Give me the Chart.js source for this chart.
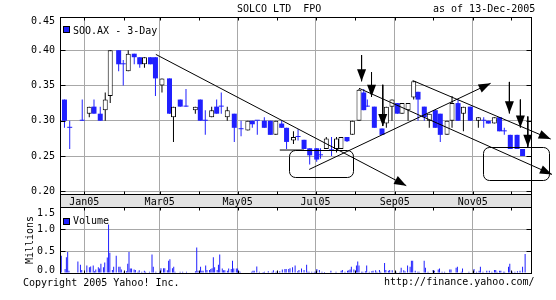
<!DOCTYPE html>
<html><head><meta charset="utf-8">
<script src="https://cdn.jsdelivr.net/npm/chart.js@4.4.0/dist/chart.umd.min.js"></script>
<style>
html,body{margin:0;padding:0;background:#fff;}
#wrap{position:relative;width:556px;height:300px;overflow:hidden;font-family:"DejaVu Sans Mono",monospace;font-size:10px;color:#000;}
.t{position:absolute;white-space:pre;line-height:12px;font-size:10px;}
canvas{position:absolute;left:0;}
#c1{top:0;width:556px;height:208px;}
#c2{top:200px;width:556px;height:100px;}
.sq{position:absolute;width:5px;height:5px;background:#2020ff;border:1px solid #000;}
</style></head><body>
<div id="wrap">
<canvas id="c1" width="556" height="208"></canvas>
<canvas id="c2" width="556" height="100"></canvas>
<div class="t" style="left:237px;top:3px">SOLCO LTD  FPO</div>
<div class="t" style="left:433px;top:3px">as of 13-Dec-2005</div>
<div class="sq" style="left:63px;top:26px"></div>
<div class="t" style="left:73px;top:25px">SOO.AX - 3-Day</div>
<div class="sq" style="left:63px;top:218px"></div>
<div class="t" style="left:73px;top:215px">Volume</div>
<div class="t" style="left:23px;top:277px">Copyright 2005 Yahoo! Inc.</div>
<div class="t" style="left:384px;top:276px">http://finance.yahoo.com/</div>
</div>
<script>
// ---- data (x = days since 1 Jan 2005) ----
const candleDay = [-15.5,-11.4,-1.6,3.9,7.6,12.5,16.4,20.3,26.9,30.5,34.4,39.1,43.4,47.1,51.8,55.7,60.8,66.7,69.8,75.1,79.6,86.9,90.8,94.7,99.7,103.6,107.2,111.9,117.4,122.7,128.0,131.5,135.4,140.9,145.6,149.9,154.5,158.3,163.7,167.3,172.0,176.4,181.9,184.9,189.4,193.5,197.4,200.9,205.6,209.8,215.0,218.7,221.5,227.0,233.0,236.4,240.8,245.0,248.7,253.4,257.8,261.2,266.1,270.0,274.7,278.6,283.9,287.8,292.5,296.7,302.1,308.4,312.6,316.2,320.9,325.0,328.7,333.4,338.7,343.0];
const openP  = [.33,.29,.30,.31,.32,.31,.315,.335,.40,.38, .37,.395,.39,.38,.39,.39,.35,.36,.305,.33, .32,.315,.33,.30,.305,.32,.32,.305,.31,.288, .286,.30,.30,.30,.30,.28,.296,.29,.272,.277, .273,.261,.261,.251,.26,.258,.26,.26,.277,.28, .30,.34,.32,.32,.289,.296,.32,.325,.31,.315, .333,.341,.32,.30,.315,.31,.28,.30,.325,.31, .32,.30,.30,.30,.296,.305,.285,.28,.28,.26];
const highP  = [.33,.30,.33,.32,.33,.32,.34,.40,.40,.386, .40,.395,.39,.39,.39,.39,.36,.36,.32,.33, .345,.32,.33,.315,.32,.33,.34,.32,.31,.30, .30,.30,.30,.305,.30,.30,.30,.29,.285,.288, .273,.261,.261,.261,.277,.277,.277,.277,.277,.30, .345,.345,.33,.32,.289,.32,.33,.325,.325,.325, .356,.341,.32,.31,.315,.31,.30,.335,.33,.32, .32,.305,.305,.30,.305,.305,.29,.28,.28,.26];
const lowP   = [.29,.26,.30,.305,.31,.30,.30,.325,.37,.35, .37,.38,.375,.375,.38,.335,.34,.31,.27,.32, .32,.31,.30,.28,.305,.31,.31,.30,.27,.278, .286,.29,.28,.29,.28,.28,.29,.26,.267,.272, .26,.238,.242,.246,.26,.25,.255,.26,.27,.28, .30,.315,.32,.29,.28,.29,.30,.31,.31,.30, .33,.30,.30,.29,.29,.27,.28,.29,.30,.285, .30,.29,.29,.296,.296,.285,.28,.26,.26,.25];
const closeP = [.30,.29,.30,.32,.31,.30,.33,.40,.38,.38, .395,.39,.38,.39,.38,.36,.36,.31,.32,.32, .32,.32,.30,.30,.315,.31,.32,.315,.29,.288, .30,.295,.30,.29,.28,.30,.29,.27,.277,.277, .26,.251,.245,.251,.275,.258,.275,.277,.271,.30, .344,.315,.32,.29,.28,.32,.33,.31,.325,.325, .356,.33,.305,.31,.29,.28,.30,.325,.30,.32, .30,.305,.30,.296,.305,.285,.285,.26,.26,.25];

const volDay = [-19,-18,-15,-14,-13,-12,-5,-3,-2,2,4,5,7,8,9,11,12,13,15,16,18,19,20,22,23,25,27,28,29,31,33,34,35,36,37,39,40,42,43,45,47,48,51,53,54,56,59,60,62,63,65,66,67,69,70,71,75,77,80,87,88,89,91,92,93,95,96,98,99,100,101,102,104,105,106,108,109,110,112,113,115,116,117,119,120,121,122,131,132,133,135,137,140,141,144,147,148,150,151,153,155,157,158,160,161,163,165,167,168,170,172,174,175,176,178,180,181,182,184,186,188,193,197,201,202,204,206,207,208,209,211,213,214,215,217,218,220,221,223,225,226,228,229,231,232,235,236,238,239,241,244,247,248,250,251,253,255,256,257,259,261,262,266,267,269,273,274,277,278,280,282,286,287,291,292,295,296,301,305,307,309,310,312,315,317,319,321,322,323,325,326,328,329,332,333,335,337,339,341,343,345];
const volM = [.09,.39,.09,.36,.48,.05,.26,.19,.07,.17,.13,.15,.17,.04,.08,.13,.10,.21,.13,.24,.35,1.10,.46,.07,.14,.39,.14,.14,.08,.03,.04,.21,.48,.10,.10,.08,.07,.03,.06,.03,.05,.03,.03,.42,.14,.03,.03,.11,.11,.11,.06,.28,.31,.11,.14,.03,.03,.03,.03,.04,.58,.05,.14,.05,.05,.17,.07,.07,.09,.11,.36,.13,.07,.19,.42,.10,.06,.06,.05,.10,.09,.28,.10,.10,.10,.04,.03,.03,.05,.05,.15,.03,.02,.03,.04,.03,.06,.03,.04,.04,.08,.09,.09,.09,.11,.13,.17,.04,.07,.10,.07,.19,.03,.03,.03,.03,.03,.09,.07,.03,.02,.05,.03,.05,.07,.03,.05,.06,.08,.14,.08,.17,.26,.17,.03,.03,.04,.17,.03,.04,.05,.06,.03,.07,.03,.23,.07,.05,.07,.06,.03,.03,.12,.06,.04,.17,.14,.28,.28,.05,.03,.03,.28,.12,.03,.07,.05,.08,.10,.03,.03,.08,.08,.12,.14,.03,.10,.03,.09,.03,.05,.14,.03,.05,.05,.03,.07,.07,.03,.05,.05,.03,.03,.14,.21,.03,.03,.04,.05,.14,.43];

const priceTicks = [0.20, 0.25, 0.30, 0.35, 0.40, 0.45];
const volTicks = [0, 0.5, 1.0, 1.5];
const monthLabels = ['Jan05','','Mar05','','May05','','Jul05','','Sep05','','Nov05',''];

// annotations drawn on the chart (day, price)
const trendLines = [
  [[56, 0.394], [252, 0.208]],
  [[176, 0.231], [318, 0.353]],
  [[257, 0.357], [365, 0.274]],
  [[215, 0.346], [366, 0.224]]
];
const supportLine = [[153, 0.2585], [172, 0.2585]];
const downArrows = [[217, 0.393, 0.356], [224.8, 0.369, 0.334], [233.6, 0.351, 0.2925], [332.7, 0.355, 0.3105], [341.3, 0.330, 0.2906], [347.1, 0.306, 0.263]];
const boxes = [[160.6, 210.3, 0.2585, 0.2209], [311.8, 364.0, 0.2631, 0.2159]];

// ---- setup ----
const BLUE = '#2020ff', GRID = '#a8a8a8', NONE = 'rgba(0,0,0,0)';
const FONT = '"DejaVu Sans Mono", monospace';
Chart.defaults.font.family = FONT;
Chart.defaults.font.size = 10;
Chart.defaults.color = '#000';
const monthDays = [];
for (let m = 0; m < 12; m++) monthDays.push((Date.UTC(2005, m, 1) - Date.UTC(2005, 0, 1)) / 864e5);
const xMin = -19, xMax = 349.6;

function noPad(s) { s.paddingTop = 0; s.paddingBottom = 0; s.paddingLeft = 0; s.paddingRight = 0; }

function xScale(showLabels) {
  return {
    type: 'linear', min: xMin, max: xMax, offset: false,
    afterBuildTicks: s => { s.ticks = monthDays.map(v => ({value: v})); },
    ticks: {display: showLabels, autoSkip: false, maxRotation: 0, minRotation: 0, padding: 2,
            callback: (v, i) => monthLabels[i]},
    grid: {offset: false, drawTicks: false, color: c => (c.index % 2 === 0 ? GRID : NONE)},
    border: {display: false},
    afterFit: s => { s.height = showLabels ? 13 : 0; noPad(s); }
  };
}

const framePlugin = {
  id: 'frame',
  afterDraw(chart) {
    const {ctx, chartArea: a, scales: {x, y}} = chart;
    ctx.save();
    ctx.strokeStyle = '#000'; ctx.lineWidth = 1;
    const L = Math.round(a.left) + 0.5, R = Math.round(a.right) + 0.5, T = Math.round(a.top) + 0.5, B = Math.round(a.bottom) + 0.5;
    ctx.strokeRect(L, T, R - L, B - T);
    ctx.beginPath();
    monthDays.forEach(d => {
      const px = Math.round(x.getPixelForValue(d)) + 0.5;
      ctx.moveTo(px, T); ctx.lineTo(px, T + 3);
      ctx.moveTo(px, B); ctx.lineTo(px, B - 3);
    });
    y.ticks.forEach(t => {
      if (t.value > y.max + 1e-9 || t.value < y.min - 1e-9) return;
      const py = Math.round(y.getPixelForValue(t.value)) + 0.5;
      ctx.moveTo(L, py); ctx.lineTo(L + 5, py);
      ctx.moveTo(R, py); ctx.lineTo(R - 5, py);
    });
    ctx.stroke();
    ctx.restore();
  }
};

const bandPlugin = {
  id: 'band',
  beforeDraw(chart) {
    const {ctx, chartArea: a} = chart;
    const L = Math.round(a.left) + 0.5, R = Math.round(a.right) + 0.5, B = Math.round(a.bottom) + 0.5;
    ctx.save();
    ctx.fillStyle = '#e2e2e2';
    ctx.fillRect(L, B, R - L, 13);
    ctx.strokeStyle = '#000'; ctx.lineWidth = 1;
    ctx.strokeRect(L, B, R - L, 13);
    ctx.restore();
  }
};

const annoPlugin = {
  id: 'anno',
  afterDatasetsDraw(chart) {
    const {ctx, scales: {x, y}} = chart;
    ctx.save();
    ctx.strokeStyle = '#000'; ctx.fillStyle = '#000'; ctx.lineWidth = 1;
    boxes.forEach(b => {
      const x1 = Math.round(x.getPixelForValue(b[0])) + 0.5, x2 = Math.round(x.getPixelForValue(b[1])) + 0.5;
      const y1 = Math.round(y.getPixelForValue(b[2])) + 0.5, y2 = Math.round(y.getPixelForValue(b[3])) + 0.5;
      ctx.beginPath(); ctx.roundRect(x1, y1, x2 - x1, y2 - y1, 6); ctx.stroke();
    });
    chart.data.datasets.forEach((ds, i) => {
      if (!ds.arrowHead) return;
      const pts = chart.getDatasetMeta(i).data;
      const p1 = pts[pts.length - 2], p2 = pts[pts.length - 1];
      const ang = Math.atan2(p2.y - p1.y, p2.x - p1.x), Ln = 12, W = 4.5;
      const cx = p2.x - Ln * Math.cos(ang), cy = p2.y - Ln * Math.sin(ang);
      ctx.beginPath();
      ctx.moveTo(p2.x, p2.y);
      ctx.lineTo(cx + W * Math.sin(ang), cy - W * Math.cos(ang));
      ctx.lineTo(cx - W * Math.sin(ang), cy + W * Math.cos(ang));
      ctx.closePath(); ctx.fill();
    });
    ctx.restore();
  }
};

const isUp = i => closeP[i] > openP[i];
const lineDs = (pts, arrow) => ({
  type: 'line', data: pts.map(p => ({x: p[0], y: p[1]})), borderColor: '#000', borderWidth: 1,
  pointRadius: 0, fill: false, tension: 0, clip: false, order: 0, arrowHead: arrow
});

const priceDatasets = [
  {type: 'bar', label: 'body', data: candleDay.map((d, i) => ({x: d, y: [openP[i], closeP[i]]})),
   barThickness: 5, grouped: false, minBarLength: 1, inflateAmount: 0, borderSkipped: false,
   backgroundColor: c => isUp(c.dataIndex) ? '#fff' : BLUE, borderColor: '#000',
   borderWidth: c => isUp(c.dataIndex) ? 1 : 0, order: 1},
  {type: 'bar', label: 'wick', data: candleDay.map((d, i) => ({x: d, y: [lowP[i], highP[i]]})),
   barThickness: 1, grouped: false, minBarLength: 1, inflateAmount: 0, borderWidth: 0,
   backgroundColor: c => isUp(c.dataIndex) ? '#000' : BLUE, order: 2}
];
trendLines.forEach(t => priceDatasets.push(lineDs(t, true)));
priceDatasets.push(lineDs(supportLine, false));
downArrows.forEach(a => priceDatasets.push(lineDs([[a[0], a[1]], [a[0], a[2]]], true)));

new Chart(document.getElementById('c1'), {
  type: 'bar',
  data: {datasets: priceDatasets},
  options: {
    responsive: false, animation: false, devicePixelRatio: 1, events: [],
    layout: {padding: {left: 0, right: 25, top: 17, bottom: 1}},
    plugins: {legend: {display: false}, tooltip: {enabled: false}},
    scales: {
      x: xScale(true),
      y: {type: 'linear', min: 0.1962, max: 0.447,
          afterBuildTicks: s => { s.ticks = priceTicks.map(v => ({value: v})); },
          ticks: {padding: 5, autoSkip: false,
                  font: c => ({family: FONT, size: 10, lineHeight: (c.tick && c.tick.value > 0.447) ? 1.4 : 1.2}),
                  callback: v => v > 0.447 ? ['', v.toFixed(2)] : v.toFixed(2)},
          grid: {drawTicks: false, color: c => (c.tick && c.tick.value <= 0.447 ? GRID : NONE)},
          border: {display: false},
          afterFit: s => { s.width = 60; noPad(s); }}
    }
  },
  plugins: [bandPlugin, annoPlugin, framePlugin]
});

new Chart(document.getElementById('c2'), {
  type: 'bar',
  data: {datasets: [{type: 'bar', label: 'Volume', data: volDay.map((d, i) => ({x: d, y: volM[i]})),
    barThickness: 1, grouped: false, inflateAmount: 0, borderWidth: 0, backgroundColor: BLUE}]},
  options: {
    responsive: false, animation: false, devicePixelRatio: 1, events: [],
    layout: {padding: {left: 20, right: 25, top: 7, bottom: 27}},
    plugins: {legend: {display: false}, tooltip: {enabled: false}},
    scales: {
      x: xScale(false),
      y: {type: 'linear', min: 0, max: 1.5,
          afterBuildTicks: s => { s.ticks = volTicks.map(v => ({value: v})); },
          ticks: {padding: 5, autoSkip: false,
                  font: c => ({family: FONT, size: 10, lineHeight: (c.tick && c.tick.value === 0) ? 0.6 : 1.2}),
                  callback: v => v >= 1.5 ? ['', v.toFixed(1)] : (v === 0 ? [v.toFixed(1), ''] : v.toFixed(1))},
          grid: {drawTicks: false, color: GRID},
          border: {display: false},
          title: {display: true, text: 'Millions', padding: {top: 4, bottom: 0}},
          afterFit: s => { s.width = 40; noPad(s); }}
    }
  },
  plugins: [framePlugin]
});
</script>
</body></html>
